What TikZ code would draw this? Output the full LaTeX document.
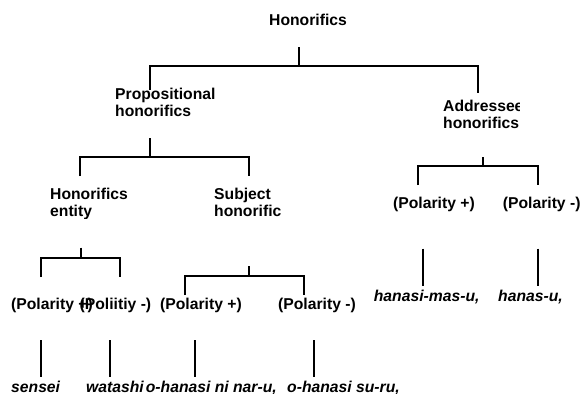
\documentclass[tikz,border=0pt]{standalone}
\usepackage{fontspec}
\setmainfont{Liberation Sans}
\newcommand{\twoline}[2]{\vtop{\hbox{#1}\hbox{#2}}}
\begin{document}
\begin{tikzpicture}[x=1pt,y=-1pt,
  lbl/.style={anchor=base west,inner sep=0pt,font=\fontsize{15.7}{17.5}\selectfont\bfseries},
  word/.style={lbl,font=\fontsize{15.7}{17.5}\selectfont\bfseries\itshape},
  conn/.style={line width=1.7pt,line join=miter,black}]
\useasboundingbox (0,0) rectangle (582,394);

% ---- labels ----
\node[lbl] (root) at (269,25.5) {Honorifics};
\node[lbl] (prop) at (115,99.3) {\twoline{Propositional}{honorifics}};
\begin{scope}
  \clip (380,80) rectangle (519,140);
  \node[lbl] (addr) at (443,111) {\twoline{Addressee}{honorifics}};
\end{scope}
\begin{scope}
  \clip (30,170) rectangle (200,218);
  \node[lbl] (ent) at (50,199.3) {\twoline{Honorifics}{entity}};
\end{scope}
\node[lbl] (subj) at (214,199.3) {\twoline{Subject}{honorific}};

\node[lbl] (apos) at (393,208) {(Polarity +)};
\node[lbl] (aneg) at (502.7,208) {(Polarity -)};
\node[word] (amas) at (373.7,301) {hanasi-mas-u,};
\node[word] (aplain) at (498,301) {hanas-u,};

\node[lbl] (epos) at (11,309.7) {(Polarity +)};
\node[lbl] (eneg) at (79.5,309.7) {(Poliitiy -)};
\node[lbl] (spos) at (160,309.7) {(Polarity +)};
\node[lbl] (sneg) at (278,309.7) {(Polarity -)};

\node[word] (sensei) at (11,392) {sensei};
\node[word] (watashi) at (86,392) {watashi};
\node[word] (nar) at (145.7,392) {o-hanasi ni nar-u,};
\node[word] (suru) at (287,392) {o-hanasi su-ru,};

% ---- bracket joints ----
\coordinate (rootT) at (299.3,47);   \coordinate (rootJ) at (299.3,66);
\coordinate (propL) at (150,90);     \coordinate (addrL) at (478,93);
\coordinate (propT) at (150,138);    \coordinate (propJ) at (150,157);
\coordinate (entL) at (80,176);      \coordinate (subjL) at (249,176);
\coordinate (addrT) at (483,157);    \coordinate (addrJ) at (483,166);
\coordinate (aposL) at (418,185);    \coordinate (anegL) at (538,185);
\coordinate (entT) at (80.7,247.7);  \coordinate (entJ) at (80.7,258);
\coordinate (eposL) at (40.7,277);   \coordinate (enegL) at (120,277);
\coordinate (subjT) at (249.3,266);  \coordinate (subjJ) at (249.3,276);
\coordinate (sposL) at (185,295);    \coordinate (snegL) at (304.3,294.7);

% ---- brackets ----
\draw[conn] (rootT) -- (rootJ);
\draw[conn] (propL) |- (rootJ) -| (addrL);
\draw[conn] (propT) -- (propJ);
\draw[conn] (entL) |- (propJ) -| (subjL);
\draw[conn] (addrT) -- (addrJ);
\draw[conn] (aposL) |- (addrJ) -| (anegL);
\draw[conn] (entT) -- (entJ);
\draw[conn] (eposL) |- (entJ) -| (enegL);
\draw[conn] (subjT) -- (subjJ);
\draw[conn] (sposL) |- (subjJ) -| (snegL);

% ---- single links to the word forms ----
\coordinate (a1) at (423.3,248.7); \coordinate (a1b) at (423.3,286.3);
\coordinate (a2) at (537.7,248.7); \coordinate (a2b) at (537.7,286.3);
\draw[conn] (a1) -- (a1b);
\draw[conn] (a2) -- (a2b);
\coordinate (w1) at (40.7,340.3);  \coordinate (w1b) at (40.7,377);
\coordinate (w2) at (110,340.3);   \coordinate (w2b) at (110,377);
\coordinate (w3) at (195,340.3);   \coordinate (w3b) at (195,377);
\coordinate (w4) at (313.7,340.3); \coordinate (w4b) at (313.7,377);
\draw[conn] (w1) -- (w1b);
\draw[conn] (w2) -- (w2b);
\draw[conn] (w3) -- (w3b);
\draw[conn] (w4) -- (w4b);
\end{tikzpicture}
\end{document}
